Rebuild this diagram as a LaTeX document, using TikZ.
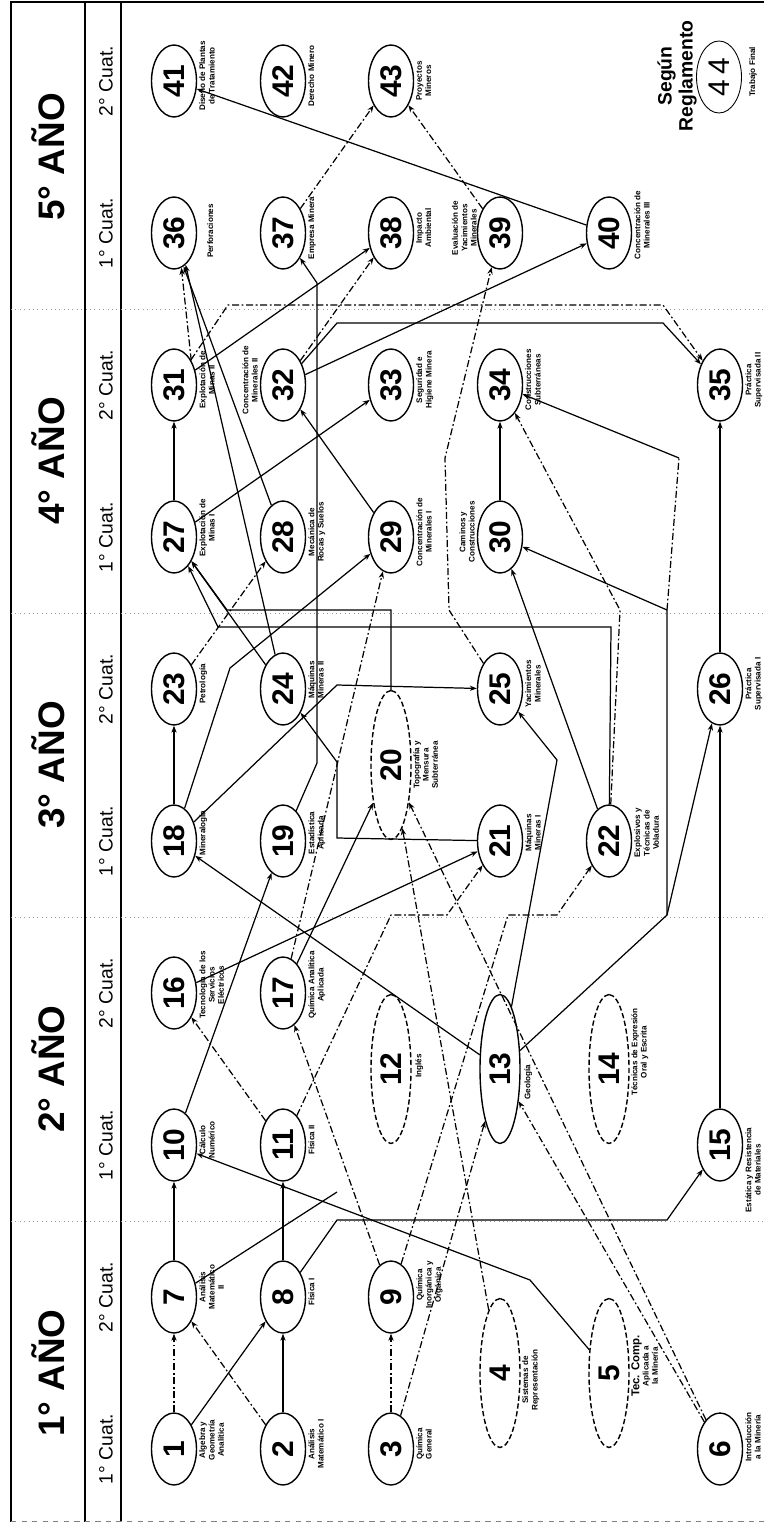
\documentclass[tikz,border=0pt]{standalone}
\usepackage{fontspec}
\setmainfont{Liberation Sans}
\usetikzlibrary{arrows.meta,shapes.geometric}

\begin{document}
\begin{tikzpicture}[x=0.02cm,y=-0.02cm,
        mat/.style={
            draw,
            ellipse,
            rotate=90,
            minimum width=1.44cm,
            minimum height=0.9cm,
            inner sep=0pt,
            line width=0.8pt,
            font=\fontsize{17}{17}\selectfont\bfseries
        },
        larga/.style={mat, minimum width=2.98cm, minimum height=0.8cm},
        largad/.style={larga, dash pattern=on 3pt off 1.5pt},
        nota/.style={rotate=90, anchor=north, align=center, inner sep=0pt,
            font=\fontsize{4.6}{5.3}\selectfont\bfseries},
        notai/.style={nota, anchor=south},
        anio/.style={rotate=90, font=\fontsize{21}{21}\selectfont\bfseries},
        cuat/.style={rotate=90, font=\fontsize{11}{11}\selectfont},
        con/.style={line width=0.7pt, -{Stealth[length=4pt,width=3pt]}},
        cond/.style={con, dash pattern=on 4pt off 1.5pt on 1pt off 1.5pt},
        tra/.style={line width=0.7pt},
        trad/.style={tra, dash pattern=on 4pt off 1.5pt on 1pt off 1.5pt},
        grilla/.style={black!40, dotted, line width=0.5pt}
    ]
    \useasboundingbox (0,0) rectangle (764,1524);

    % Marco
    \draw[line width=0.9pt] (11,1522) -- (11,2) -- (764,2);
    \draw[line width=0.8pt] (85,2) -- (85,1522);
    \draw[line width=0.8pt] (121,2) -- (121,1522);
    \draw[black!50, dashed] (11,1521) -- (764,1521);
    \draw[grilla] (11,1221) -- (764,1221);
    \draw[grilla] (11,917) -- (764,917);
    \draw[grilla] (11,613) -- (764,613);
    \draw[grilla] (11,309) -- (764,309);

    % Encabezado
    \node[anio] (a1) at (48,1373) {1° AÑO};
    \node[anio] (a2) at (48,1069) {2° AÑO};
    \node[anio] (a3) at (48,765) {3° AÑO};
    \node[anio] (a4) at (48,461) {4° AÑO};
    \node[anio] (a5) at (48,157) {5° AÑO};
    \node[cuat] (c0) at (106,1449) {1° Cuat.};
    \node[cuat] (c1) at (106,1297) {2° Cuat.};
    \node[cuat] (c2) at (106,1145) {1° Cuat.};
    \node[cuat] (c3) at (106,993) {2° Cuat.};
    \node[cuat] (c4) at (106,841) {1° Cuat.};
    \node[cuat] (c5) at (106,689) {2° Cuat.};
    \node[cuat] (c6) at (106,537) {1° Cuat.};
    \node[cuat] (c7) at (106,385) {2° Cuat.};
    \node[cuat] (c8) at (106,233) {1° Cuat.};
    \node[cuat] (c9) at (106,81) {2° Cuat.};

    % Materias
    \node[mat] (n1) at (174,1449) {1};
    \node[mat] (n2) at (283,1449) {2};
    \node[mat] (n3) at (391,1449) {3};
    \node[largad] (n4) at (500,1373) {4};
    \node[largad] (n5) at (609,1373) {5};
    \node[mat] (n6) at (720,1449) {6};
    \node[mat] (n7) at (174,1297) {7};
    \node[mat] (n8) at (283,1297) {8};
    \node[mat] (n9) at (391,1297) {9};
    \node[mat] (n10) at (174,1145) {10};
    \node[mat] (n11) at (283,1145) {11};
    \node[largad] (n12) at (391,1069) {12};
    \node[larga] (n13) at (500,1069) {13};
    \node[largad] (n14) at (609,1069) {14};
    \node[mat] (n15) at (720,1145) {15};
    \node[mat] (n16) at (174,993) {16};
    \node[mat] (n17) at (283,993) {17};
    \node[mat] (n18) at (174,841) {18};
    \node[mat] (n19) at (283,841) {19};
    \node[largad] (n20) at (391,765) {20};
    \node[mat] (n21) at (500,841) {21};
    \node[mat] (n22) at (609,841) {22};
    \node[mat] (n23) at (174,689) {23};
    \node[mat] (n24) at (283,689) {24};
    \node[mat] (n25) at (500,689) {25};
    \node[mat] (n26) at (720,689) {26};
    \node[mat] (n27) at (174,537) {27};
    \node[mat] (n28) at (283,537) {28};
    \node[mat] (n29) at (391,537) {29};
    \node[mat] (n30) at (500,537) {30};
    \node[mat] (n31) at (174,385) {31};
    \node[mat] (n32) at (283,385) {32};
    \node[mat] (n33) at (391,385) {33};
    \node[mat] (n34) at (500,385) {34};
    \node[mat] (n35) at (720,385) {35};
    \node[mat] (n36) at (174,233) {36};
    \node[mat] (n37) at (283,233) {37};
    \node[mat] (n38) at (391,233) {38};
    \node[mat] (n39) at (500,233) {39};
    \node[mat] (n40) at (609,233) {40};
    \node[mat] (n41) at (174,81) {41};
    \node[mat] (n42) at (283,81) {42};
    \node[mat] (n43) at (391,81) {43};
    \node[mat, line width=0.5pt, font=\fontsize{17}{17}\selectfont] (n44) at (719,77) {4\,4};
    \node[rotate=90, align=center, font=\fontsize{11}{12}\selectfont\bfseries] (regl) at (677,76) {Según\\Reglamento};

    % Nombres
    \node[nota] (t1) at (199,1440) {Algebra y\\Geometría\\Analítica};
    \node[nota] (t2) at (308,1444) {Análisis\\Matemático I};
    \node[nota] (t3) at (416,1444) {Química\\General};
    \node[nota] (t4) at (522,1380) {Sistemas de\\Representación};
    \node[nota] (t5) at (631,1366) {{\fontsize{6.5}{6.5}\selectfont Tec. Comp.}\\Aplicada a\\la Minería};
    \node[nota] (t6) at (745,1437) {Introducción\\a la Minería};
    \node[nota] (t7) at (199,1287) {Análisis\\Matemático\\II};
    \node[nota] (t8) at (308,1292) {Física I};
    \node[nota] (t9) at (416,1285) {Química\\Inorgánica y\\Orgánica};
    \node[nota] (t10) at (199,1140) {Cálculo\\Numérico};
    \node[nota] (t11) at (308,1140) {Física II};
    \node[nota] (t12) at (415,1066) {Inglés};
    \node[nota] (t13) at (524,1082) {Geología};
    \node[nota] (t14) at (631,1052) {Técnicas de Expresión\\Oral y Escrita};
    \node[nota] (t15) at (745,1170) {Estática y Resistencia\\de Materiales};
    \node[nota] (t16) at (199,985) {Tecnología de los\\Servicios\\Eléctricos};
    \node[nota] (t17) at (308,985) {Química Analítica\\Aplicada};
    \node[nota] (t18) at (199,833) {Mineralogía};
    \node[nota] (t19) at (308,833) {Estadística\\Aplicada};
    \node[nota] (t20) at (413,765) {Topografía y\\Mensura\\Subterránea};
    \node[nota] (t21) at (525,833) {Máquinas\\Mineras I};
    \node[nota] (t22) at (634,833) {Explosivos y\\Técnicas de\\Voladura};
    \node[nota] (t23) at (199,684) {Petrología};
    \node[nota] (t24) at (308,680) {Máquinas\\Mineras II};
    \node[nota] (t25) at (525,684) {Yacimientos\\Minerales};
    \node[nota] (t26) at (745,684) {Práctica\\Supervisada I};
    \node[nota] (t27) at (199,528) {Explotación de\\Minas I};
    \node[nota] (t28) at (308,532) {Mecánica de\\Rocas y Suelos};
    \node[nota] (t29) at (416,532) {Concentración de\\Minerales I};
    \node[notai] (t30) at (475,532) {Caminos y\\Construcciones};
    \node[nota] (t31) at (199,380) {Explotación de\\Minas II};
    \node[notai] (t32) at (258,380) {Concentración de\\Minerales II};
    \node[nota] (t33) at (416,380) {Seguridad e\\Higiene Minera};
    \node[nota] (t34) at (525,380) {Construcciones\\Subterráneas};
    \node[nota] (t35) at (745,380) {Práctica\\Supervisada II};
    \node[nota] (t36) at (207,231) {Perforaciones};
    \node[nota] (t37) at (308,228) {Empresa Minera};
    \node[nota] (t38) at (416,228) {Impacto\\Ambiental};
    \node[notai] (t39) at (477,228) {Evaluación de\\Yacimientos\\Minerales};
    \node[nota] (t40) at (634,225) {Concentración de\\Minerales III};
    \node[nota] (t41) at (199,76) {Diseño de Plantas\\de Tratamiento};
    \node[nota] (t42) at (308,76) {Derecho Minero};
    \node[nota] (t43) at (416,81) {Proyectos\\Mineros};
    \node[nota] (t44) at (749,72) {Trabajo Final};

    % Puntos de quiebre
    \coordinate (b7) at (337,1192);
    \coordinate (b13) at (667,915);
    \coordinate (b30) at (667,610);
    \coordinate (b34) at (679,458);

    % Primer y segundo año
    \draw[cond] (n1) -- (n7);
    \draw[con] (n2) -- (n8);
    \draw[con] (n1) -- (n8);
    \draw[cond] (n2) -- (n7);
    \draw[cond] (n3) -- (n9);
    \draw[cond] (n3) -- (n13);
    \draw[cond] (n4) -- (n20);
    \draw[con] (n5) -- (530,1280) -- (n10);
    \draw[cond] (n6) -- (n20);
    \draw[cond] (n6) -- (n13);
    \draw[con] (n7) -- (n10);
    \draw[con] (n8) -- (n11);
    \draw[tra] (n7) -- (b7);
    \draw[con] (n8) -- (337,1220) -- (667,1220) -- (n15);
    \draw[cond] (n9) -- (n17);
    \draw[cond] (n9) -- (508,915) -- (557,915) -- (n22);
    \draw[con] (n10) -- (n19);
    \draw[cond] (n11) -- (n16);
    \draw[cond] (n11) -- (391,915) -- (447,915) -- (n21);
    \draw[con] (n16) -- (n21);
    \draw[con] (n13) -- (n18);
    \draw[cond] (n17) -- (n29);
    \draw[con] (n17) -- (n20);
    \draw[con] (n13) -- (b13) -- (b30) -- (n30);
    \draw[con] (b13) -- (n26);
    \draw[con] (n13) -- (557,760) -- (n25);
    \draw[con] (n15) -- (n26);

    % Tercer año
    \draw[con] (n18) -- (n23);
    \draw[con] (n18) -- (230,668) -- (n29);
    \draw[con] (n18) -- (337,685) -- (n25);
    \draw[con] (n21) -- (337,838) -- (337,762) -- (n24);
    \draw[con] (n19) -- (317,763) -- (317,283) -- (n37);
    \draw[con] (n20) -- (391,610) -- (227,610) -- (n27);
    \draw[con] (n22) -- (611,627) -- (218,627) -- (n27);
    \draw[cond] (n22) -- (620,610) -- (n34);
    \draw[con] (n22) -- (n30);
    \draw[cond] (n23) -- (n28);
    \draw[con] (n24) -- (n27);
    \draw[cond] (n25) -- (449,610) -- (445,458) -- (n39);
    \draw[con] (n26) -- (n35);
    \draw[con] (n24) -- (n36.200);

    % Cuarto año
    \draw[con] (n27) -- (n31);
    \draw[con] (n27) -- (n33);
    \draw[con] (n29) -- (n32);
    \draw[con] (n30) -- (n34);
    \draw[con] (n28) -- (n36.196);
    \draw[trad] (b30) -- (b34);
    \draw[con] (b34) -- (n34);
    \draw[cond] (n31.325) -- (n36.192);
    \draw[con] (n31) -- (n38);
    \draw[cond] (n31) -- (228,305) -- (663,305) -- (n35);
    \draw[con] (n32) -- (337,323) -- (663,323) -- (n35);
    \draw[cond] (n32) -- (n38);
    \draw[con] (n32) -- (n40);

    % Quinto año
    \draw[cond] (n37) -- (n43);
    \draw[cond] (n39) -- (n43);
    \draw[con] (n40) -- (n41);

\end{tikzpicture}
\end{document}
